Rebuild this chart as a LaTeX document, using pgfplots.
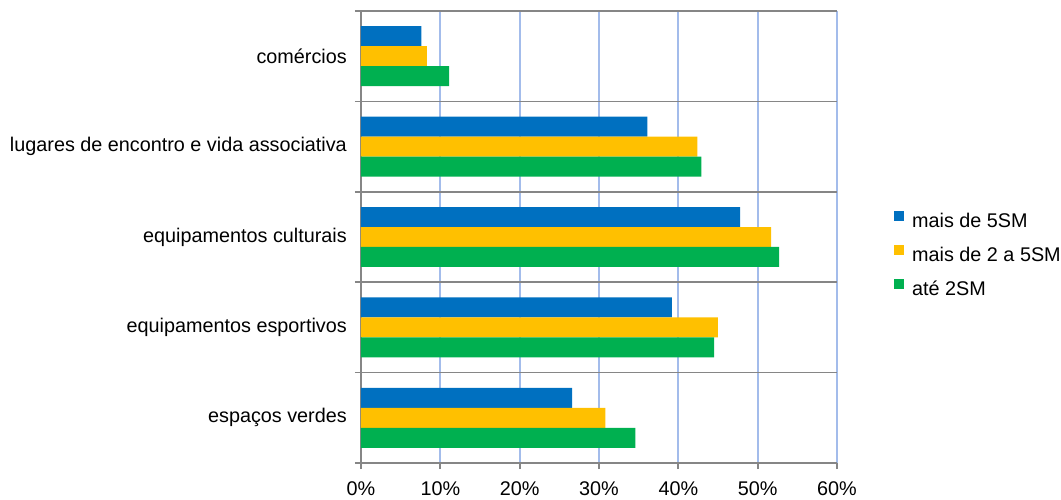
\documentclass[border=0pt]{standalone}
\usepackage{fontspec}
\setmainfont{Liberation Sans}
\usepackage{pgfplots}
\pgfplotsset{compat=1.18}
\definecolor{cblue}{HTML}{0070C0}
\definecolor{cyellow}{HTML}{FFC000}
\definecolor{cgreen}{HTML}{00B050}
\definecolor{axgray}{HTML}{868686}
\definecolor{gridblue}{HTML}{A3BCEB}
\pgfplotsset{mylegend/.style={legend image code/.code={\fill[##1] (0pt,0pt) rectangle (10pt,10pt);}}}
\newcommand{\lblfont}{\fontsize{19.8}{23}\selectfont}
\begin{document}
\begin{tikzpicture}
\path[use as bounding box] (0,0) rectangle (1061pt,499pt);
\begin{axis}[
  at={(361pt,36pt)}, anchor=south west,
  scale only axis, width=476pt, height=452pt,
  xbar, bar width=0.221,
  xmin=0, xmax=60, ymin=-0.5, ymax=4.5,
  axis x line*=bottom, axis y line*=left,
  axis line style={-, draw=axgray, line width=1.7pt},
  xtick={0,10,20,30,40,50,60},
  xticklabels={0\%,10\%,20\%,30\%,40\%,50\%,60\%},
  tick align=outside, major tick length=6pt,
  tick style={draw=axgray, line width=1.7pt},
  xmajorgrids, ymajorgrids,
  every axis x grid/.append style={draw=gridblue, line width=1.8pt},
  every axis y grid/.append style={draw=axgray, line width=1.7pt},
  ytick={-0.5,0.5,1.5,2.5,3.5,4.5},
  yticklabels={},
  extra y ticks={0,1,2,3,4},
  extra y tick labels={espaços verdes,equipamentos esportivos,equipamentos culturais,lugares de encontro e vida associativa,comércios},
  extra y tick style={grid=none, major tick length=0pt, tick style={draw=none}, yticklabel style={inner sep=0pt, xshift=-14pt}},
  xticklabel style={inner sep=0pt, yshift=-12pt},
  tick label style={font=\lblfont},
  legend style={draw=none, fill=none, at={(1.1197,0.462)}, anchor=west, inner sep=0pt, row sep=16pt, column sep=8pt, font=\lblfont, nodes={inner sep=0pt}},
  legend cell align=left,
]
\addplot[fill=cblue, draw=none, bar shift=0.221, mylegend] coordinates {(26.6,0) (39.2,1) (47.8,2) (36.1,3) (7.6,4)};
\addplot[fill=cyellow, draw=none, bar shift=0, mylegend] coordinates {(30.8,0) (45.0,1) (51.7,2) (42.4,3) (8.3,4)};
\addplot[fill=cgreen, draw=none, bar shift=-0.221, mylegend] coordinates {(34.6,0) (44.5,1) (52.7,2) (42.9,3) (11.1,4)};
\legend{mais de 5SM,mais de 2 a 5SM,até 2SM}
\end{axis}
\end{tikzpicture}
\end{document}
